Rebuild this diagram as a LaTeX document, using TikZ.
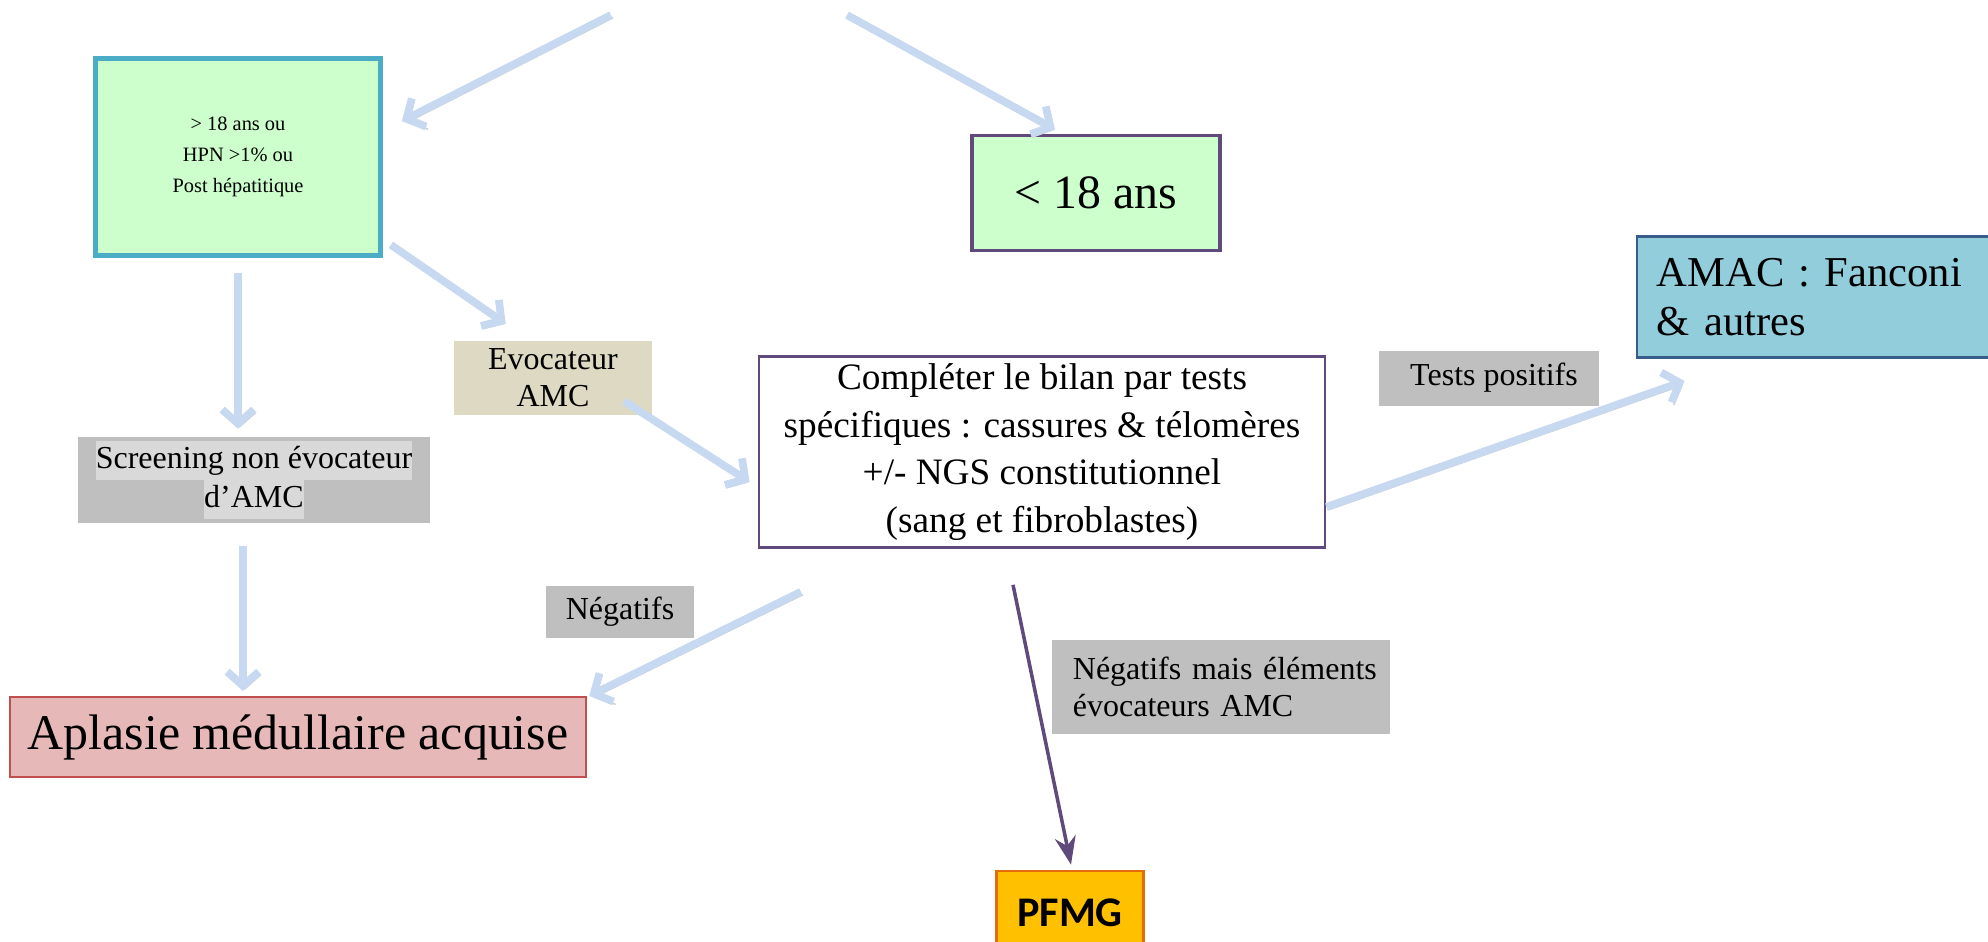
\documentclass[tikz,border=0pt]{standalone}
\usepackage{fontspec}
\setmainfont{Liberation Serif}
\newfontfamily\calibri{Carlito}
\usetikzlibrary{arrows.meta}
\setlength{\fboxsep}{0pt}

\definecolor{paleGreen}{HTML}{CCFFCC}
\definecolor{tealLine}{HTML}{4BACC6}
\definecolor{plum}{HTML}{604A7B}
\definecolor{skyFill}{HTML}{92CDDC}
\definecolor{navyLine}{HTML}{385D8A}
\definecolor{khaki}{HTML}{DDD9C3}
\definecolor{labelGray}{HTML}{BFBFBF}
\definecolor{hiGray}{HTML}{D9D9D9}
\definecolor{rose}{HTML}{E6B9B8}
\definecolor{brick}{HTML}{C0504D}
\definecolor{amber}{HTML}{FFC000}
\definecolor{pumpkin}{HTML}{E46C0A}
\definecolor{arrowBlue}{HTML}{C6D9F1}

\tikzset{
  box/.style={draw, inner sep=0pt, align=center},
  tag/.style={fill=labelGray, inner sep=0pt, align=center, font=\fontsize{9.1pt}{10.5pt}\selectfont},
  bluearrow/.style={draw=arrowBlue, line width=2.2pt, -{Straight Barb[length=4pt,width=9pt]},
    preaction={draw=black!20, transform canvas={shift={(0.6pt,-0.8pt)}}}},
  plumarrow/.style={draw=plum, line width=1pt, -{Stealth[length=8pt,width=6pt]}}
}

\begin{document}
\begin{tikzpicture}[x=0.01cm, y=-0.01cm]
\useasboundingbox (0,0) rectangle (1988,941);

\node (older) at (238,157) [box, draw=tealLine, line width=1.3pt, fill=paleGreen, minimum width=2.85cm, minimum height=1.97cm, font=\fontsize{5.8pt}{8.8pt}\selectfont] {> 18 ans ou\\HPN >1\% ou\\Post hépatitique};
\node (young) at (1096,193) [box, draw=plum, line width=1.1pt, fill=paleGreen, minimum width=2.48cm, minimum height=1.15cm, font=\fontsize{13.6pt}{16pt}\selectfont] {< 18 ans};
\node (amac) at (1817,297) [box, draw=navyLine, line width=0.8pt, fill=skyFill, align=left, text width=3.2cm, inner xsep=0.2cm, minimum height=1.21cm, font=\fontsize{12.1pt}{14pt}\selectfont] {AMAC : Fanconi\\\& autres};
\node (evoc) at (553,378) [tag, fill=khaki, minimum width=1.97cm, minimum height=0.73cm] {Evocateur\\AMC};
\node (screen) at (254,480) [tag, minimum width=3.51cm, minimum height=0.85cm, font=\fontsize{9.1pt}{11.2pt}\selectfont] {\colorbox{hiGray}{\strut Screening non évocateur}\\\colorbox{hiGray}{\strut d’AMC}};
\node (bilan) at (1042,452) [box, draw=plum, line width=0.7pt, fill=white, minimum width=5.66cm, minimum height=1.91cm, font=\fontsize{10.6pt}{13.5pt}\selectfont] {Compléter le bilan par tests\\spécifiques : cassures \& télomères\\+/- NGS constitutionnel\\(sang et fibroblastes)};
\node (pos) at (1489,378) [tag, minimum width=2.19cm, minimum height=0.55cm] {\hspace{0.1cm}Tests positifs};
\node (neg) at (620,612) [tag, minimum width=1.48cm, minimum height=0.52cm] {Négatifs};
\node (aplasie) at (298,737) [box, draw=brick, line width=0.6pt, fill=rose, minimum width=5.76cm, minimum height=0.8cm, font=\fontsize{14.2pt}{17pt}\selectfont] {Aplasie médullaire acquise};
\node (negamc) at (1221,687) [tag, align=left, text width=3.18cm, inner xsep=0.1cm, minimum height=0.93cm] {\hspace{0.11cm}Négatifs mais éléments\\\hspace{0.11cm}évocateurs AMC};
\node (pfmg) at (1070,913) [box, draw=pumpkin, line width=0.8pt, fill=amber, minimum width=1.47cm, minimum height=0.84cm, font=\calibri\bfseries\fontsize{12pt}{14pt}\selectfont] {PFMG};

\coordinate (top1) at (611,15);
\coordinate (top2) at (847,15);

\draw [bluearrow] (top1) -- ([shift={(19,65)}]older.north east);
\draw [bluearrow] (top2) -- ([shift={(-41,-4)}]young.north);
\draw [bluearrow, shorten <=0.15cm, shorten >=0.08cm] (older.south) -- (older.south |- screen.north);
\draw [bluearrow] ([shift={(8,-13)}]older.south east) -- ([shift={(52,-17)}]evoc.north west);
\draw [bluearrow] ([shift={(-28,-14)}]evoc.south east) -- ([shift={(-8,30)}]bilan.west);
\draw [bluearrow, shorten <=0.23cm, shorten >=0.05cm] ([xshift=-0.11cm]screen.south) -- ([xshift=-0.11cm]screen.south |- aplasie.north);
\draw [bluearrow] ([shift={(0,55)}]bilan.east) -- ([shift={(49,22)}]amac.south west);
\draw [bluearrow] ([shift={(-241,43)}]bilan.south) -- ([shift={(2,0)}]aplasie.north east);
\draw [plumarrow] ([shift={(-29,36)}]bilan.south) -- ([shift={(1,-5)}]pfmg.north);
\end{tikzpicture}
\end{document}
